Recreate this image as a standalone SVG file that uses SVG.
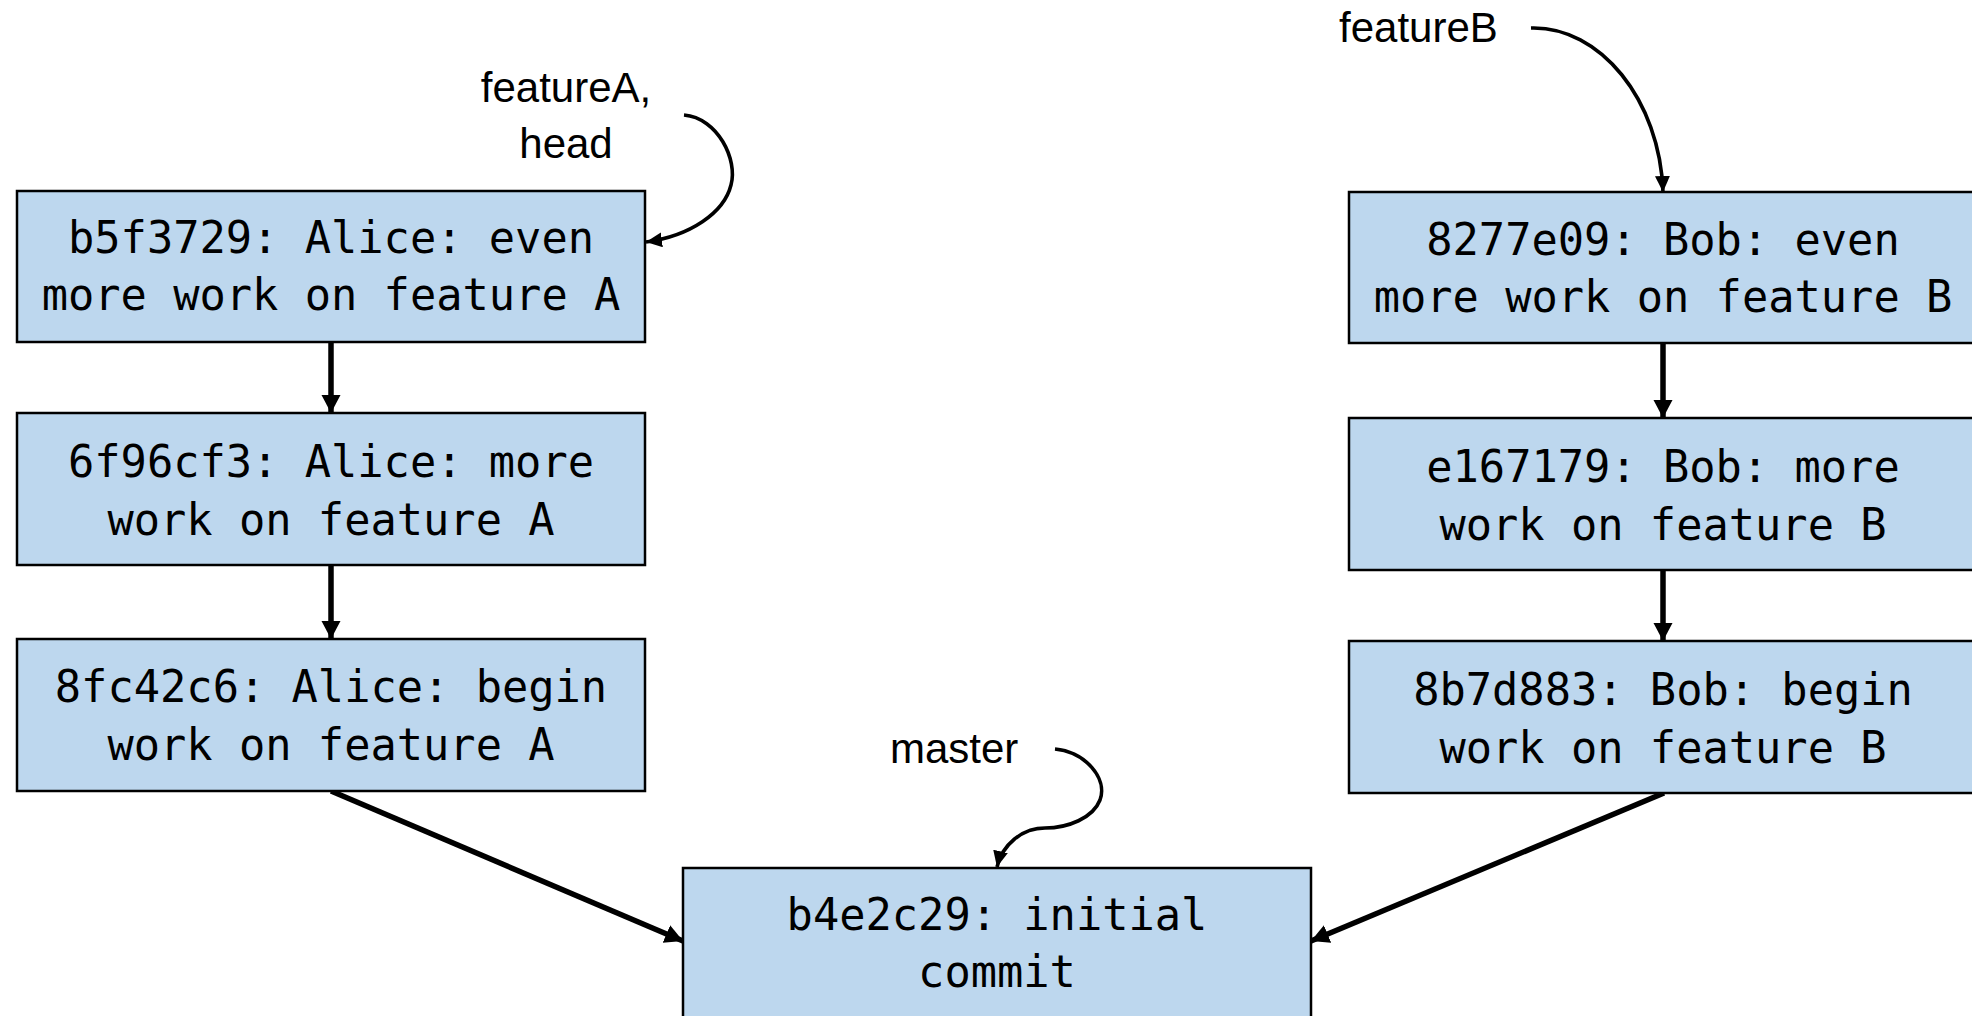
<svg xmlns="http://www.w3.org/2000/svg" width="1972" height="1016" viewBox="0 0 1972 1016">
<style>
.box{fill:#BDD7EE;stroke:#000;stroke-width:2.5}
.code{font-family:"DejaVu Sans Mono","Liberation Mono",monospace;font-size:43.7px;fill:#000;text-anchor:middle}
.lbl{font-family:"Liberation Sans",Arial,sans-serif;font-size:42px;fill:#000}
.edge{fill:none;stroke:#000;stroke-width:5.5}
.ptr{fill:none;stroke:#000;stroke-width:3.6}
</style>
<defs>
<marker id="ah" markerUnits="userSpaceOnUse" markerWidth="20" markerHeight="20" refX="18" refY="9.5" orient="auto">
<path d="M0,0 L18,9.5 L0,19 z" fill="#000"/>
</marker>
<marker id="ahs" markerUnits="userSpaceOnUse" markerWidth="17" markerHeight="16" refX="16" refY="7.5" orient="auto">
<path d="M0,0 L16,7.5 L0,15 z" fill="#000"/>
</marker>
</defs>
<rect width="1972" height="1016" fill="#fff"/>
<g id="connectors">
<path class="edge" d="M331,342 L331,413" marker-end="url(#ah)"/>
<path class="edge" d="M331,565 L331,639" marker-end="url(#ah)"/>
<path class="edge" d="M1663,343 L1663,418" marker-end="url(#ah)"/>
<path class="edge" d="M1663,570 L1663,641" marker-end="url(#ah)"/>
<path class="edge" d="M331,791 L683,941" marker-end="url(#ah)"/>
<path class="edge" d="M1664,793 L1311,941" marker-end="url(#ah)"/>
<path class="ptr" d="M684,115 C718,118 738,160 731,185 C724,213 690,236 646,242" marker-end="url(#ahs)"/>
<path class="ptr" d="M1531,28 C1600,26 1660,100 1663,192" marker-end="url(#ahs)"/>
<path class="ptr" d="M1055,749 C1085,752 1108,778 1100,800 C1093,818 1068,828 1045,828 C1022,828 1002,845 997,867" marker-end="url(#ahs)"/>
</g>
<g id="label-featureA">
<text class="lbl" x="566" y="102" text-anchor="middle">featureA,</text>
<text class="lbl" x="566" y="158" text-anchor="middle">head</text>
</g>
<g id="label-featureB">
<text class="lbl" x="1339" y="42">featureB</text>
</g>
<g id="label-master">
<text class="lbl" x="890" y="763">master</text>
</g>
<g id="b5f3729">
<rect class="box" x="17" y="191" width="628" height="151"/>
<text class="code" x="331" y="253">b5f3729: Alice: even</text>
<text class="code" x="331" y="310">more work on feature A</text>
</g>
<g id="6f96cf3">
<rect class="box" x="17" y="413" width="628" height="152"/>
<text class="code" x="331" y="477">6f96cf3: Alice: more</text>
<text class="code" x="331" y="535">work on feature A</text>
</g>
<g id="8fc42c6">
<rect class="box" x="17" y="639" width="628" height="152"/>
<text class="code" x="331" y="702">8fc42c6: Alice: begin</text>
<text class="code" x="331" y="760">work on feature A</text>
</g>
<g id="8277e09">
<rect class="box" x="1349" y="192" width="628" height="151"/>
<text class="code" x="1663" y="255">8277e09: Bob: even</text>
<text class="code" x="1663" y="312">more work on feature B</text>
</g>
<g id="e167179">
<rect class="box" x="1349" y="418" width="628" height="152"/>
<text class="code" x="1663" y="482">e167179: Bob: more</text>
<text class="code" x="1663" y="540">work on feature B</text>
</g>
<g id="8b7d883">
<rect class="box" x="1349" y="641" width="628" height="152"/>
<text class="code" x="1663" y="705">8b7d883: Bob: begin</text>
<text class="code" x="1663" y="763">work on feature B</text>
</g>
<g id="b4e2c29">
<rect class="box" x="683" y="868" width="628" height="160"/>
<text class="code" x="997" y="930">b4e2c29: initial</text>
<text class="code" x="997" y="987">commit</text>
</g>
</svg>
